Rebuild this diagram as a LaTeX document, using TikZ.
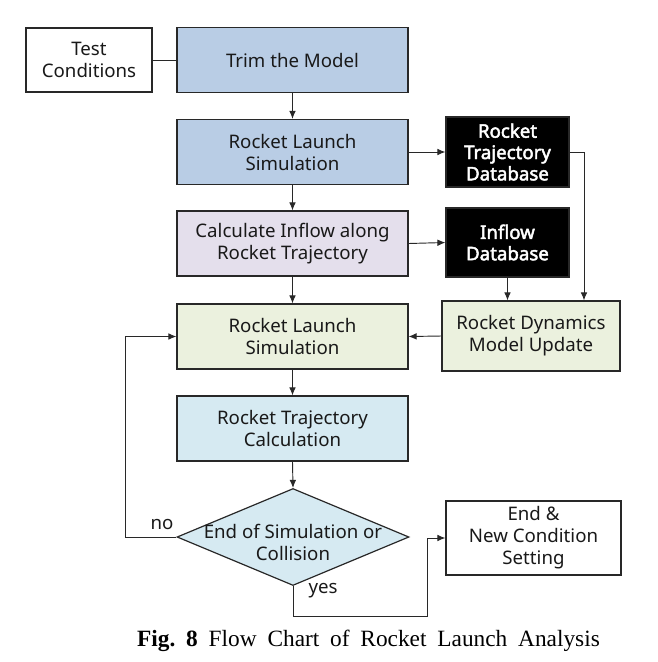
\documentclass[tikz,border=0pt]{standalone}
\usepackage{fontspec}
\setmainfont{Noto Sans}[AutoFakeBold=2.5]
\newfontfamily\capfont{Liberation Serif}
\usetikzlibrary{shapes.geometric,arrows.meta}
\definecolor{boxblue}{RGB}{185,205,229}
\definecolor{boxlav}{RGB}{228,223,236}
\definecolor{boxgrn}{RGB}{235,241,222}
\definecolor{boxcyan}{RGB}{214,234,242}
\definecolor{linegray}{RGB}{40,40,40}
\begin{document}
\begin{tikzpicture}[x=0.75pt,y=-0.75pt,
  txt/.style={align=center,font=\fontsize{14pt}{16.5pt}\selectfont,text=black!90},
  boxbase/.style={txt,draw=linegray,line width=0.9pt,inner sep=0pt},
  mainbox/.style={boxbase,minimum width=173.25pt,minimum height=48.75pt},
  dbbox/.style={boxbase,fill=black,text=white,font=\fontsize{14pt}{16pt}\selectfont\bfseries,minimum width=92.25pt},
  arr/.style={draw=linegray,line width=0.7pt,-{Latex[length=6pt,width=5pt]}},
  conn/.style={draw=linegray,line width=0.7pt}]
\useasboundingbox (0,0) rectangle (658,662);
% nodes
\node[boxbase,fill=white,minimum width=94.5pt,minimum height=48pt] (test) at (89,60) {Test\\Conditions};
\node[mainbox,fill=boxblue] (trim) at (292.5,60) {Trim the Model};
\node[mainbox,fill=boxblue] (rls1) at (292.5,152) {Rocket Launch\\Simulation};
\node[mainbox,fill=boxlav] (calc) at (292.5,243.5) {Calculate Inflow along\\Rocket Trajectory};
\node[mainbox,fill=boxgrn] (rls2) at (292.5,336.5) {Rocket Launch\\Simulation};
\node[mainbox,fill=boxcyan] (rtc) at (292.5,428.5) {Rocket Trajectory\\Calculation};
\node[diamond,draw=linegray,line width=0.9pt,fill=boxcyan,minimum width=174pt,minimum height=72.75pt,inner sep=0pt] (dec) at (293,537) {};
\node[txt] (dectext) at (293,542) {End of Simulation or\\Collision};
\node[dbbox,minimum height=52.5pt] (rtd) at (507.5,152) {Rocket\\Trajectory\\Database};
\node[dbbox,minimum height=51.75pt] (idb) at (507.5,242.5) {Inflow\\Database};
\node[boxbase,fill=boxgrn,minimum width=133.5pt,minimum height=52.5pt] (rdmu) at (531,336) {Rocket Dynamics\\Model Update};
\node[boxbase,fill=white,minimum width=131.25pt,minimum height=55.5pt] (endb) at (533.5,538) {End \&\\New Condition\\Setting};
\node[txt] (nolab) at (162,524) {no};
\node[txt] (yeslab) at (323,591) {yes};
\node (cap) at (368.5,641) {\capfont\frenchspacing\fontsize{17.5pt}{20pt}\selectfont\makebox[347pt][s]{\textbf{Fig. 8} Flow Chart of Rocket Launch Analysis}};
% connectors
\draw[conn] (test.east) -- (trim.west);
\draw[arr] (trim.south) -- (rls1.north);
\draw[arr] (rls1.south) -- (calc.north);
\draw[arr] (calc.south) -- (rls2.north);
\draw[arr] (rls2.south) -- (rtc.north);
\draw[arr] (rtc.south) -- (dec.north);
\draw[arr] (rls1.east) -- (rtd.west);
\draw[arr] (calc.east) -- (idb.west);
\draw[arr] (rtd.east) -| ([xshift=39.75pt]rdmu.north);
\draw[arr] (idb.south) -- (idb.south |- rdmu.north);
\draw[arr] (rdmu.west) -- (rls2.west -| rls2.east);
\draw[arr] (dec.west) -- ++(-38.25pt,0) |- (rls2.west);
\draw[arr] (dec.south) -- ++(0,-22.5pt) -| ([xshift=-13.5pt]endb.west) -- (endb.west);
\end{tikzpicture}
\end{document}
